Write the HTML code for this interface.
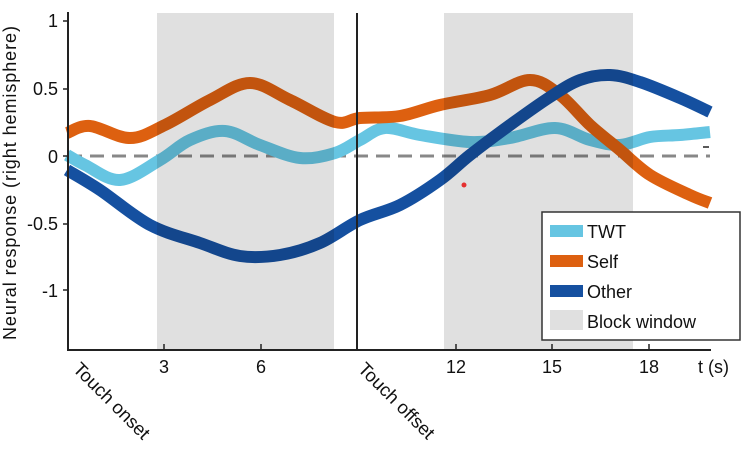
<!DOCTYPE html>
<html><head><meta charset="utf-8"><style>
html,body{margin:0;padding:0;background:#fff;width:756px;height:456px;overflow:hidden}
text{font-family:"Liberation Sans",Arial,sans-serif;fill:#111}
</style></head><body>
<svg id="s" width="756" height="456" viewBox="0 0 756 456" xmlns="http://www.w3.org/2000/svg">
<line x1="68" y1="156" x2="710" y2="156" stroke="#888" stroke-width="3" stroke-dasharray="14 8"/>
<g id="curves" fill="none" stroke-width="12" stroke-linecap="butt"></g>
<rect x="157" y="13" width="177" height="337" fill="#e0e0e0" style="mix-blend-mode:multiply"/>
<rect x="444" y="13" width="189" height="337" fill="#e0e0e0" style="mix-blend-mode:multiply"/>
<line x1="357" y1="13" x2="357" y2="350" stroke="#222" stroke-width="2"/>
<line x1="68" y1="12" x2="68" y2="351" stroke="#222" stroke-width="2"/>
<line x1="67" y1="350" x2="711" y2="350" stroke="#222" stroke-width="2"/>
<g stroke="#222" stroke-width="1.5">
<line x1="63" y1="21" x2="68" y2="21"/><line x1="63" y1="89" x2="68" y2="89"/><line x1="63" y1="156" x2="68" y2="156"/><line x1="63" y1="224" x2="68" y2="224"/><line x1="63" y1="290" x2="68" y2="290"/>
<line x1="164" y1="344" x2="164" y2="350"/><line x1="261" y1="344" x2="261" y2="350"/><line x1="456" y1="344" x2="456" y2="350"/><line x1="552" y1="344" x2="552" y2="350"/><line x1="649" y1="344" x2="649" y2="350"/>
<line x1="703" y1="147" x2="709" y2="147"/>
</g>
<g font-size="18" text-anchor="end">
<text x="58" y="27">1</text><text x="58" y="95">0.5</text><text x="58" y="163">0</text><text x="58" y="230">-0.5</text><text x="58" y="297">-1</text>
</g>
<g font-size="18" text-anchor="middle">
<text x="164" y="373">3</text><text x="261" y="373">6</text><text x="456" y="373">12</text><text x="552" y="373">15</text><text x="649" y="373">18</text>
</g>
<text x="698" y="373" font-size="18">t (s)</text>
<text transform="translate(72,370) rotate(45)" font-size="18.5">Touch onset</text>
<text transform="translate(357,370) rotate(45)" font-size="18.5">Touch offset</text>
<text transform="translate(16,183) rotate(-90)" font-size="18" text-anchor="middle" textLength="314">Neural  response (right hemisphere)</text>
<circle cx="464" cy="185" r="2.5" fill="#e53030"/>
<rect x="542" y="212" width="198" height="128" fill="#fff" stroke="#333" stroke-width="1.5"/>
<rect x="550" y="225" width="33" height="12" fill="#66c5e2"/>
<rect x="550" y="255" width="33" height="12" fill="#dd6010"/>
<rect x="550" y="285" width="33" height="12" fill="#1550a0"/>
<rect x="550" y="310" width="33" height="20" fill="#e0e0e0"/>
<g font-size="18"><text x="587" y="238">TWT</text><text x="587" y="268">Self</text><text x="587" y="298">Other</text><text x="587" y="328">Block window</text></g>
</svg>
<script>
function cr(p){let d="M"+p[0][0]+","+p[0][1];for(let i=0;i<p.length-1;i++){const a=p[Math.max(i-1,0)],b=p[i],c=p[i+1],e=p[Math.min(i+2,p.length-1)];
const c1=[b[0]+(c[0]-a[0])/6,b[1]+(c[1]-a[1])/6],c2=[c[0]-(e[0]-b[0])/6,c[1]-(e[1]-b[1])/6];d+=" C"+c1+" "+c2+" "+c;}return d;}
const S={
"#66c5e2":[[67,155],[85,165],[120,180],[160,160],[190,140],[225,131],[260,145],[300,158],[335,153],[360,140],[385,128],[420,135],[470,142],[510,138],[555,128],[590,140],[620,145],[650,137],[680,135],[710,132]],
"#dd6010":[[67,133],[90,126],[130,138],[165,125],[210,100],[250,83],[290,100],[335,122],[360,118],[400,116],[440,105],[490,95],[530,80],[560,95],[590,125],[620,150],[650,175],[690,195],[710,203]],
"#1550a0":[[67,170],[100,190],[150,225],[200,243],[240,256],[280,255],[320,243],[360,220],[400,205],[440,180],[470,155],[510,125],[550,97],[580,80],[610,75],[640,82],[680,98],[710,112]]};
const g=document.getElementById("curves");
for(const k in S){const p=document.createElementNS("http://www.w3.org/2000/svg","path");p.setAttribute("d",cr(S[k]));p.setAttribute("stroke",k);g.appendChild(p);}
</script>
</body></html>
